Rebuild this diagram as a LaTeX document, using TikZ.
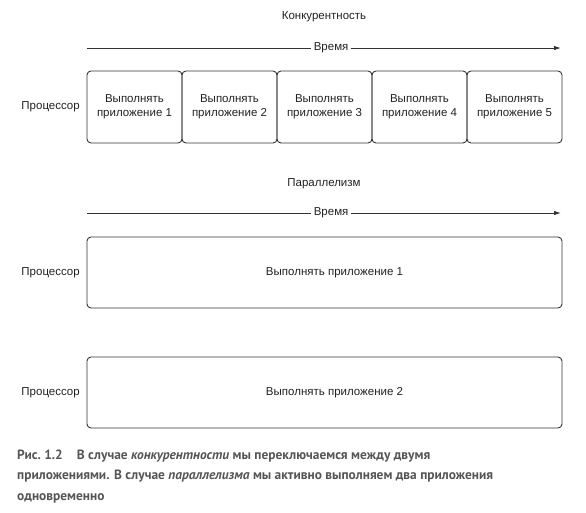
\documentclass[tikz,border=0pt]{standalone}
\usepackage{fontspec}
\setmainfont{Liberation Sans}
\newfontfamily\capfont{PT Sans}
\usetikzlibrary{positioning,arrows.meta}

\definecolor{linegray}{HTML}{333333}
\definecolor{textgray}{HTML}{222222}
\definecolor{capgray}{HTML}{555555}

\tikzset{
  appbox/.style={draw=linegray, line width=0.9pt, rounded corners=4pt,
    minimum width=95pt, minimum height=72pt, align=center,
    inner sep=0pt, outer sep=0pt, font=\fontsize{11.5}{14}\selectfont, text=textgray},
  widebox/.style={appbox, minimum width=475pt, minimum height=71pt},
  cpu/.style={font=\fontsize{11.5}{14}\selectfont, text=textgray, inner sep=0pt},
  heading/.style={font=\fontsize{11.5}{14}\selectfont, text=textgray},
  timeline/.style={draw=linegray, line width=0.9pt,
    -{Latex[length=7pt,width=4.5pt]}},
  timelabel/.style={fill=white, inner xsep=3pt, inner ysep=1pt,
    font=\fontsize{11.5}{14}\selectfont, text=textgray}
}

\begin{document}
\begin{tikzpicture}[x=1pt,y=-1pt]
  \useasboundingbox (0,0) rectangle (586,512);

  % concurrency
  \node[heading] (conc) at (324,17) {Конкурентность};
  \coordinate (t1s) at (87,48);
  \coordinate (t1e) at (561,48);
  \draw[timeline] (t1s) -- node[timelabel, pos=0.515] (time1) {Время} (t1e);

  \node[appbox] (c1) at (134.5,107) {Выполнять\\приложение 1};
  \node[appbox, right=0pt of c1] (c2) {Выполнять\\приложение 2};
  \node[appbox, right=0pt of c2] (c3) {Выполнять\\приложение 3};
  \node[appbox, right=0pt of c3] (c4) {Выполнять\\приложение 4};
  \node[appbox, right=0pt of c4] (c5) {Выполнять\\приложение 5};
  \node[cpu, left=7pt of c1] (cpu1) {Процессор};

  % parallelism
  \node[heading] (par) at (324,184) {Параллелизм};
  \coordinate (t2s) at (87,213);
  \coordinate (t2e) at (561,213);
  \draw[timeline] (t2s) -- node[timelabel, pos=0.515] (time2) {Время} (t2e);

  \node[widebox] (p1) at (324.5,272.5) {\hspace{20pt}Выполнять приложение 1};
  \node[cpu, left=7pt of p1] (cpu2) {Процессор};

  \node[widebox] (p2) at (324.5,392.5) {\hspace{20pt}Выполнять приложение 2};
  \node[cpu, left=7pt of p2] (cpu3) {Процессор};

  % caption
  \node[anchor=north west, inner sep=0pt, align=left, text=capgray,
    font=\capfont\bfseries\fontsize{13.4}{20.5}\selectfont] (cap) at (17,449.5)
    {Рис.~1.2\hspace{14pt}В случае \textit{конкурентности} мы переключаемся между двумя\\
     приложениями. В случае \textit{параллелизма} мы активно выполняем два приложения\\
     одновременно};
\end{tikzpicture}
\end{document}
